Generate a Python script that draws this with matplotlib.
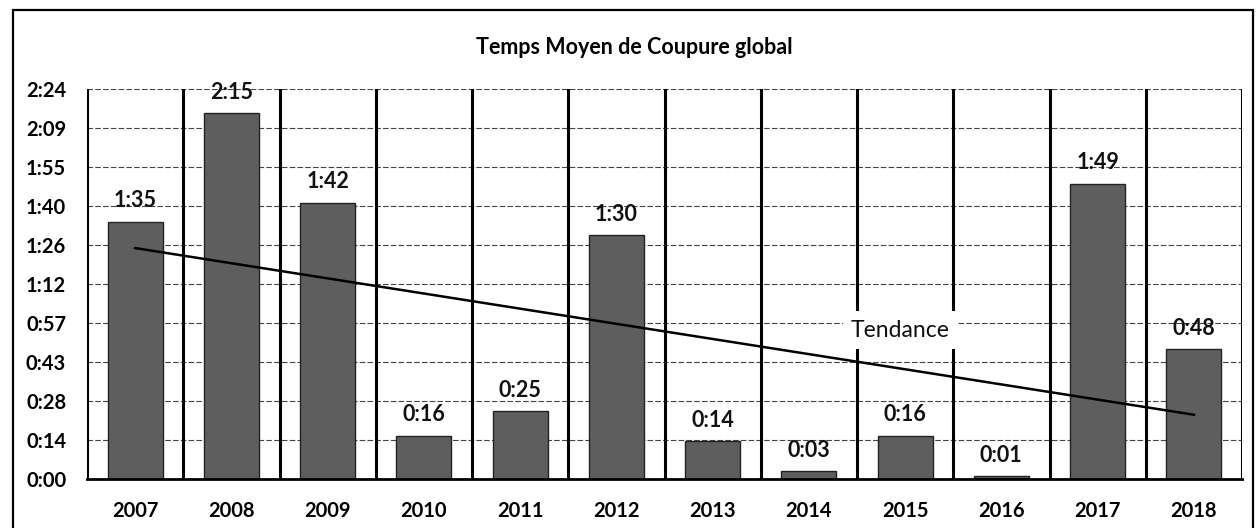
import matplotlib
matplotlib.use("Agg")
import matplotlib.pyplot as plt
import numpy as np
from matplotlib.patches import Rectangle

plt.rcParams['font.family'] = ['Lato', 'DejaVu Sans']

years = ['2007', '2008', '2009', '2010', '2011', '2012', '2013', '2014', '2015', '2016', '2017', '2018']
minutes = [95, 135, 102, 16, 25, 90, 14, 3, 16, 1, 109, 48]
value_labels = ['1:35', '2:15', '1:42', '0:16', '0:25', '1:30', '0:14', '0:03', '0:16', '0:01', '1:49', '0:48']
ytick_values = [0, 14.4, 28.8, 43.2, 57.6, 72, 86.4, 100.8, 115.2, 129.6, 144]
ytick_labels = ['0:00', '0:14', '0:28', '0:43', '0:57', '1:12', '1:26', '1:40', '1:55', '2:09', '2:24']
title = 'Temps Moyen de Coupure global'
trend_label = 'Tendance'

fig = plt.figure(figsize=(12.59, 5.28), dpi=100)
fig.patch.set_facecolor('white')

# outer frame
fig.add_artist(Rectangle((13 / 1259, -0.01), (1253 - 13) / 1259, 1 - 10 / 528 + 0.01,
                         transform=fig.transFigure, fill=False, edgecolor='black', linewidth=1.6))

ax = fig.add_axes([87 / 1259, 1 - 479 / 528, (1242 - 87) / 1259, (479 - 89) / 528])
x = np.arange(len(years))

ax.set_xlim(-0.5, len(years) - 0.5)
ax.set_ylim(0, 144)

# horizontal dashed gridlines
for v in ytick_values[1:]:
    ax.axhline(v, color='#444444', linewidth=0.8, linestyle=(0, (5, 2)), zorder=1)

# vertical separators between categories
for b in np.arange(-0.5, len(years), 1.0):
    ax.axvline(b, color='black', linewidth=2.2, zorder=1)

ax.bar(x, minutes, width=0.57, color='#5e5e5e', edgecolor='#222222', linewidth=1.0, zorder=2)

# trend line (linear regression)
coef = np.polyfit(x, minutes, 1)
ax.plot(x, np.polyval(coef, x), color='black', linewidth=1.8, zorder=3)

for xi, v, lab in zip(x, minutes, value_labels):
    ax.annotate(lab, (xi, v), xytext=(0, 15), textcoords='offset points',
                ha='center', va='center', fontsize=15.5, fontweight='bold', zorder=4,
                color='#111111')

ax.text(7.95, 55, trend_label, ha='center', va='center', fontsize=16.5, color='#111111',
        bbox=dict(facecolor='white', edgecolor='none', pad=6), zorder=5)

ax.set_xticks(x)
ax.set_xticklabels(years, fontsize=14.5, fontweight='bold')
ax.set_yticks(ytick_values)
ax.set_yticklabels(ytick_labels, fontsize=14.5, fontweight='bold')
ax.tick_params(axis='both', length=0)
ax.tick_params(axis='x', pad=16)
ax.tick_params(axis='y', pad=15)

for s in ['top', 'right', 'left']:
    ax.spines[s].set_visible(False)
ax.spines['bottom'].set_linewidth(2)

fig.text(634 / 1259, 1 - 47 / 528, title, ha='center', va='center', fontsize=15.5, fontweight='bold')

fig.savefig('out.png', dpi=100)
